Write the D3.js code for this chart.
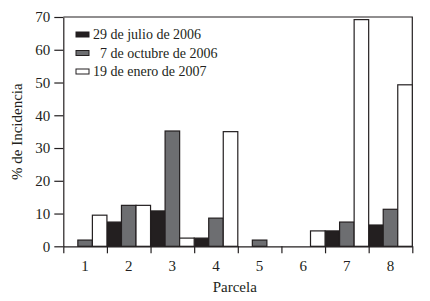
<html>
<head>
  <meta charset="utf-8" />
  <script src="https://cdnjs.cloudflare.com/ajax/libs/d3/7.8.5/d3.min.js"></script>
  <style>
    body { margin: 0; background: #fff; }
    text { font-family: "Liberation Serif", "DejaVu Serif", serif; fill: #231f20; }
    .axis path, .axis line { stroke: #231f20; stroke-width: 1.2; }
  </style>
</head>
<body>
  <svg width="430" height="301"></svg>
  <script>
    var parcelas = ["1", "2", "3", "4", "5", "6", "7", "8"]
    var fechas = ["29 de julio de 2006", "\u00a0\u00a07 de octubre de 2006", "19 de enero de 2007"]
    var julio = [0, 7.4, 10.8, 2.5, 0, 0, 4.7, 6.5]
    var octubre = [1.9, 12.5, 35.2, 8.6, 1.9, 0, 7.4, 11.3]
    var enero = [9.5, 12.5, 2.5, 35, 0, 4.7, 69.2, 49.3]
    var yTicks = [0, 10, 20, 30, 40, 50, 60, 70]
    var colores = ["#231f20", "#6d6e71", "#ffffff"]

    var series = [julio, octubre, enero]
    var plotLeft = 63.3, plotRight = 412.3, plotTop = 17, plotBottom = 246.3

    var svg = d3.select("svg")

    var xScale = d3.scaleBand().domain(parcelas).range([plotLeft, plotRight]).padding(0)
    var inner = d3.scaleBand().domain(d3.range(series.length)).range([0, xScale.bandwidth()]).padding(0)
    var yScale = d3.scaleLinear().domain([0, 70]).range([plotBottom, plotTop])
    var edgeScale = d3.scaleLinear().domain([0, parcelas.length]).range([plotLeft, plotRight])

    // frame top and right
    svg.append("path")
      .attr("d", "M" + plotLeft + "," + plotTop + "H" + plotRight + "V" + plotBottom)
      .attr("fill", "none")
      .attr("stroke", "#231f20")
      .attr("stroke-width", 1.2)

    // bars
    series.forEach(function(vals, s) {
      svg.append("g").selectAll("rect")
        .data(vals)
        .enter()
        .append("rect")
          .attr("x", (d, i) => xScale(parcelas[i]) + inner(s))
          .attr("y", d => yScale(d))
          .attr("width", inner.bandwidth())
          .attr("height", d => yScale(0) - yScale(d))
          .attr("fill", colores[s])
          .attr("stroke", "#231f20")
          .attr("stroke-width", 1.2)
    })

    // y axis
    var yAxis = svg.append("g")
      .attr("class", "axis")
      .attr("transform", "translate(" + plotLeft + ",0)")
      .call(d3.axisLeft(yScale).tickValues(yTicks).tickSize(9).tickPadding(4).tickSizeOuter(0))
    yAxis.selectAll("text").style("font-size", "15px").style("font-family", "Liberation Serif")

    // x axis: boundary ticks
    svg.append("g")
      .attr("class", "axis")
      .attr("transform", "translate(0," + plotBottom + ")")
      .call(d3.axisBottom(edgeScale).ticks(parcelas.length).tickSize(7).tickFormat("").tickSizeOuter(0))

    // x axis: labels
    var xAxis = svg.append("g")
      .attr("class", "axis")
      .attr("transform", "translate(0," + plotBottom + ")")
      .call(d3.axisBottom(xScale).tickSize(0).tickPadding(14))
    xAxis.select("path").remove()
    xAxis.selectAll("text").style("font-size", "15px").style("font-family", "Liberation Serif")

    // axis titles
    svg.append("text")
      .attr("x", (plotLeft + plotRight) / 2 - 3)
      .attr("y", 292)
      .attr("text-anchor", "middle")
      .style("font-size", "15px")
      .text("Parcela")

    svg.append("text")
      .attr("transform", "translate(22," + (plotTop + plotBottom) / 2 + ") rotate(-90)")
      .attr("text-anchor", "middle")
      .style("font-size", "15px")
      .text("% de Incidencia")

    // legend
    var legend = svg.append("g").selectAll("g")
      .data(fechas)
      .enter()
      .append("g")
        .attr("transform", (d, i) => "translate(76," + (34.5 + i * 18.5) + ")")
    legend.append("rect")
      .attr("x", 0).attr("y", -2.5)
      .attr("width", 13).attr("height", 5)
      .attr("fill", (d, i) => colores[i])
      .attr("stroke", "#231f20")
      .attr("stroke-width", 1)
    legend.append("text")
      .attr("x", 17)
      .attr("dy", "0.35em")
      .style("font-size", "14px")
      .text(d => d)
  </script>
</body>
</html>
